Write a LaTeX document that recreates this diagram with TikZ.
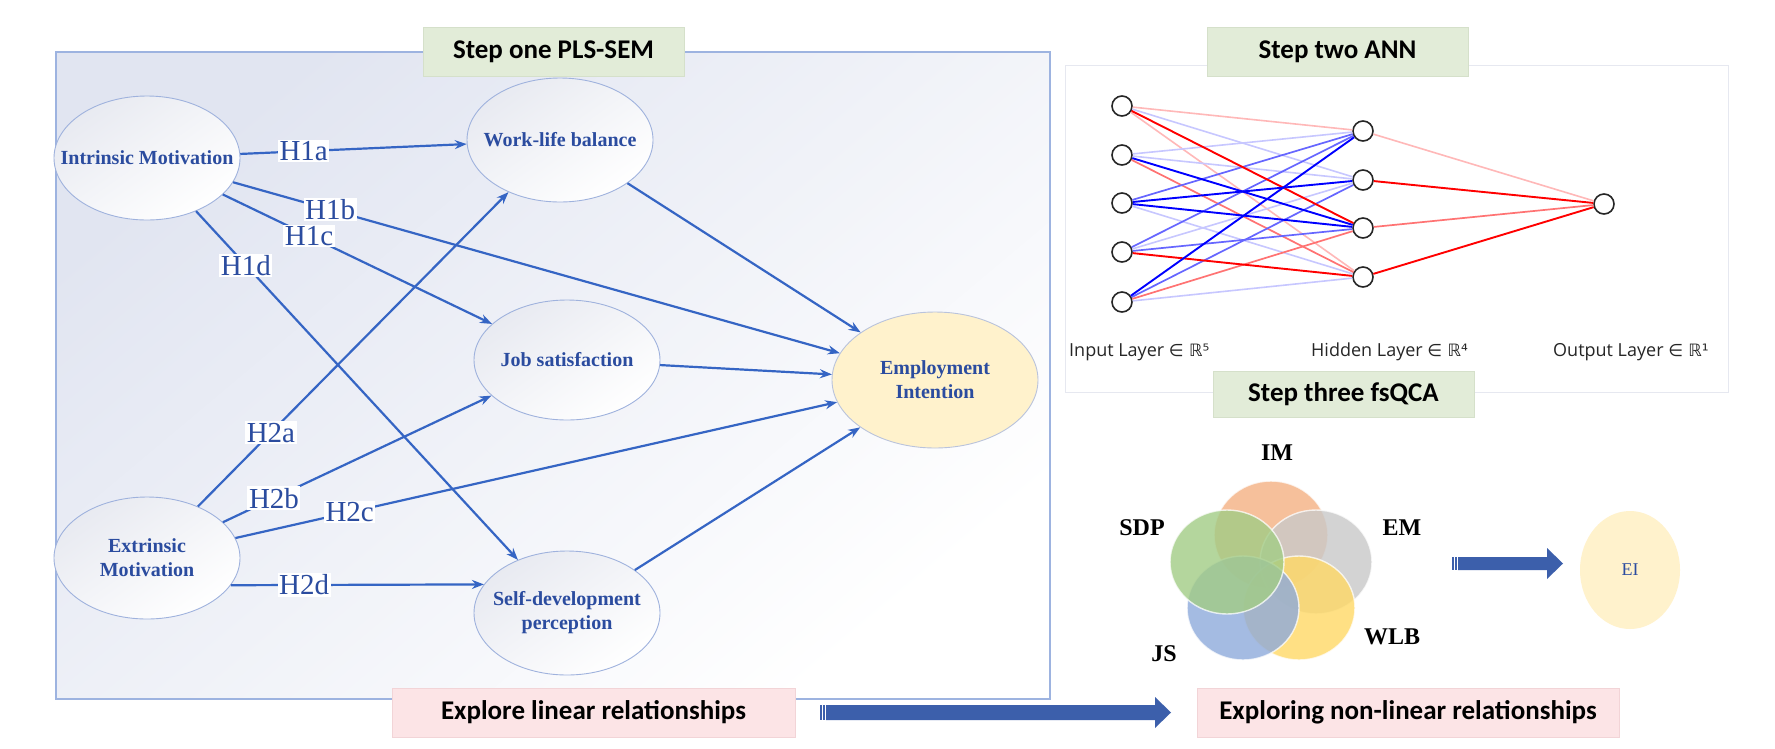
\documentclass[tikz,border=0pt]{standalone}
\usepackage{fontspec}
\setmainfont{Liberation Serif}
\newfontfamily\calfont{Carlito}
\newfontfamily\uifont{Open Sans}
\newfontfamily\djvfont{DejaVu Sans}
\usetikzlibrary{shapes.geometric,arrows.meta}

\definecolor{txtblue}{HTML}{2B4C9F}
\definecolor{arrblue}{HTML}{3565C4}
\definecolor{elborder}{HTML}{9FB2DD}
\definecolor{frameblue}{HTML}{9DB3E0}
\definecolor{bgtint}{HTML}{E1E5F1}
\definecolor{eltint}{HTML}{E8EAF1}
\definecolor{titlegreen}{HTML}{E2ECD8}
\definecolor{titlegreenb}{HTML}{D5E0CA}
\definecolor{titlepink}{HTML}{FCE4E6}
\definecolor{titlepinkb}{HTML}{F2D4D7}
\definecolor{eiyellow}{HTML}{FFF2CC}
\definecolor{eiborder}{HTML}{B9C3DC}
\definecolor{bigarrow}{HTML}{3C5FAB}
\definecolor{annframe}{HTML}{E6E8F0}
\definecolor{vorange}{HTML}{F4B183}
\definecolor{vgray}{HTML}{C9C9C9}
\definecolor{vgreen}{HTML}{A2CC85}
\definecolor{vblue}{HTML}{8EAADB}
\definecolor{vyellow}{HTML}{FFD966}

\begin{document}
\begin{tikzpicture}[x=1pt,y=-1pt,
  latbase/.style={ellipse, draw=elborder, line width=0.9pt, inner sep=0pt,
    minimum width=186pt, minimum height=124pt},
  lat/.style={latbase, top color=eltint, bottom color=white, shading angle=35},
  lattext/.style={align=center, text=txtblue, inner sep=0pt,
    font=\fontsize{20}{24}\selectfont\bfseries},
  arr/.style={draw=arrblue, line width=2.2pt, -{Stealth[length=12pt,width=9pt]}},
  hyp/.style={fill=white, text=txtblue, inner sep=1.5pt, font=\fontsize{29}{29}\selectfont},
  ttl/.style={font=\calfont\bfseries\fontsize{27}{30}\selectfont, text=black,
    minimum height=49pt, inner sep=0pt},
  greenttl/.style={ttl, fill=titlegreen, draw=titlegreenb, line width=0.8pt, minimum width=261pt},
  pinkttl/.style={ttl, fill=titlepink, draw=titlepinkb, line width=0.8pt},
  annnode/.style={circle, draw=black!85, line width=1.6pt, fill=white, minimum size=20pt, inner sep=0pt},
  annlbl/.style={anchor=west, font=\uifont\fontsize{18}{20}\selectfont, text=black!85, inner sep=0pt},
  eSR/.style={draw=red, line width=1.9pt},
  eMR/.style={draw=red!55, line width=1.7pt},
  eLR/.style={draw=red!28, line width=1.6pt},
  eSB/.style={draw=blue, line width=1.9pt},
  eMB/.style={draw=blue!60, line width=1.7pt},
  eLB/.style={draw=blue!22, line width=1.6pt},
  venn/.style={fill opacity=0.8, draw=white, draw opacity=0.75, line width=1.4pt},
  vlbl/.style={font=\fontsize{24}{26}\selectfont\bfseries, text=black, inner sep=0pt}
]
\useasboundingbox (0,0) rectangle (1775,748);
\fill[white] (0,0) rectangle (1775,748);

% ---------- Step one frame ----------
\shade[top color=bgtint, middle color=white, bottom color=white, shading angle=40] (56,52) rectangle (1050,699);
\draw[frameblue, line width=1.5pt] (56,52) rectangle (1050,699);

% ---------- ANN panel ----------
\draw[annframe, line width=1pt] (1065,65) rectangle (1728,392);

% ---------- SEM nodes ----------
\node[lat] (IM) at (147,158) {};
\node[lattext] (IMt) at (IM) {Intrinsic Motivation};
\node[lat] (WLB) at (560,140) {};
\node[lattext] (WLBt) at (WLB) {Work-life balance};
\node[lat, minimum height=120pt] (JS) at (567,360) {};
\node[lattext] (JSt) at (JS) {Job satisfaction};
\node[lat] (SDP) at (567,613) {};
\node[lattext] (SDPt) at (SDP) {Self-development\\perception};
\node[lat, minimum height=122pt] (EM) at (147,558) {};
\node[lattext] (EMt) at (EM) {Extrinsic\\Motivation};
\node[latbase, fill=eiyellow, draw=eiborder, minimum width=206pt, minimum height=136pt] (EI) at (935,380) {};
\node[lattext] (EIt) at (EI) {Employment\\Intention};

% ---------- SEM paths ----------
\draw[arr] (WLB) -- (EI);
\draw[arr] (JS) -- (EI);
\draw[arr] (SDP) -- (EI);
\draw[arr] (IM) -- node[hyp, pos=0.28] (LH1a) {H1a} (WLB);
\draw[arr] (IM) -- node[hyp, pos=0.16] (LH1b) {H1b} (EI);
\draw[arr] (IM) -- node[hyp, pos=0.32] (LH1c) {H1c} (JS);
\draw[arr] (IM) -- node[hyp, pos=0.155] (LH1d) {H1d} (SDP);
\draw[arr] (EM) -- node[hyp, pos=0.235] (LH2a) {H2a} (WLB);
\draw[arr] (EM) -- node[hyp, pos=0.19] (LH2b) {H2b} (JS);
\draw[arr] (EM) -- node[hyp, pos=0.19] (LH2c) {H2c} (EI);
\draw[arr] (EM.-18) -- node[hyp, pos=0.29] (LH2d) {H2d} (SDP.161);

% ---------- titles ----------
\node[greenttl] (S1) at (553.5,51.5) {Step one PLS-SEM};
\node[greenttl] (S2) at (1337.5,51.5) {Step two ANN};
\node[greenttl, minimum height=46pt] (S3) at (1343.5,394) {Step three fsQCA};
\node[pinkttl, minimum width=403pt] (B1) at (593.5,712.5) {Explore linear relationships};
\node[pinkttl, minimum width=422pt] (B2) at (1408,712.5) {Exploring non-linear relationships};

% ---------- ANN ----------
\foreach \i/\y in {1/106,2/155,3/203,4/252,5/302} {\node[annnode] (I\i) at (1122,\y) {};}
\foreach \i/\y in {1/131,2/180,3/228,4/277} {\node[annnode] (H\i) at (1363,\y) {};}
\node[annnode] (O1) at (1604,204) {};
\foreach \a/\b/\s in {I1/H1/eLR, I1/H2/eLB, I1/H4/eLR,
                      I2/H1/eLB, I2/H2/eLB, I2/H4/eMR,
                      I3/H4/eLB, I4/H2/eLB, I5/H4/eLB,
                      I3/H1/eMB, I4/H1/eMB, I4/H3/eMB, I5/H2/eMB, I5/H3/eMR,
                      I1/H3/eSR, I2/H3/eSB, I3/H2/eSB, I3/H3/eSB, I4/H4/eSR, I5/H1/eSB,
                      H1/O1/eLR, H2/O1/eSR, H3/O1/eMR, H4/O1/eSR}
  {\draw[\s] (\a) -- (\b);}
\node[annlbl] (LIn) at (1069,352) {Input Layer {\djvfont\fontsize{17}{20}\selectfont ∈ ℝ⁵}};
\node[annlbl] (LHid) at (1311,352) {Hidden Layer {\djvfont\fontsize{17}{20}\selectfont ∈ ℝ⁴}};
\node[annlbl] (LOut) at (1553,352) {Output Layer {\djvfont\fontsize{17}{20}\selectfont ∈ ℝ¹}};

% ---------- fsQCA Venn ----------
\path[venn, fill=vorange] (1271,535) ellipse [x radius=57, y radius=54];
\path[venn, fill=vgray] (1316,562) ellipse [x radius=56, y radius=52];
\path[venn, fill=vyellow] (1299,608) ellipse [x radius=56, y radius=52];
\path[venn, fill=vblue] (1243,608) ellipse [x radius=56, y radius=52];
\path[venn, fill=vgreen] (1227,562) ellipse [x radius=57, y radius=52];
\node[vlbl] (VIM) at (1277,453) {IM};
\node[vlbl] (VSDP) at (1142,528) {SDP};
\node[vlbl] (VEM) at (1402,528) {EM};
\node[vlbl] (VWLB) at (1392,637) {WLB};
\node[vlbl] (VJS) at (1164,654) {JS};

\node[ellipse, fill=eiyellow, minimum width=100pt, minimum height=118pt, inner sep=0pt] (EIr) at (1630,570) {};
\node[text=txtblue, font=\fontsize{18}{20}\selectfont, inner sep=0pt] (EIrt) at (EIr) {EI};

% ---------- block arrows ----------
\fill[bigarrow] (1452,557) rectangle (1453.5,570);
\fill[bigarrow] (1455,557) rectangle (1456.5,570);
\fill[bigarrow] (1458,557) -- (1547,557) -- (1547,548) -- (1563,563.5) -- (1547,579) -- (1547,570) -- (1458,570) -- cycle;

\fill[bigarrow] (820,705) rectangle (821.5,720);
\fill[bigarrow] (823,705) rectangle (824.5,720);
\fill[bigarrow] (826,705) -- (1155,705) -- (1155,697) -- (1171,712.5) -- (1155,728) -- (1155,720) -- (826,720) -- cycle;
\end{tikzpicture}
\end{document}
